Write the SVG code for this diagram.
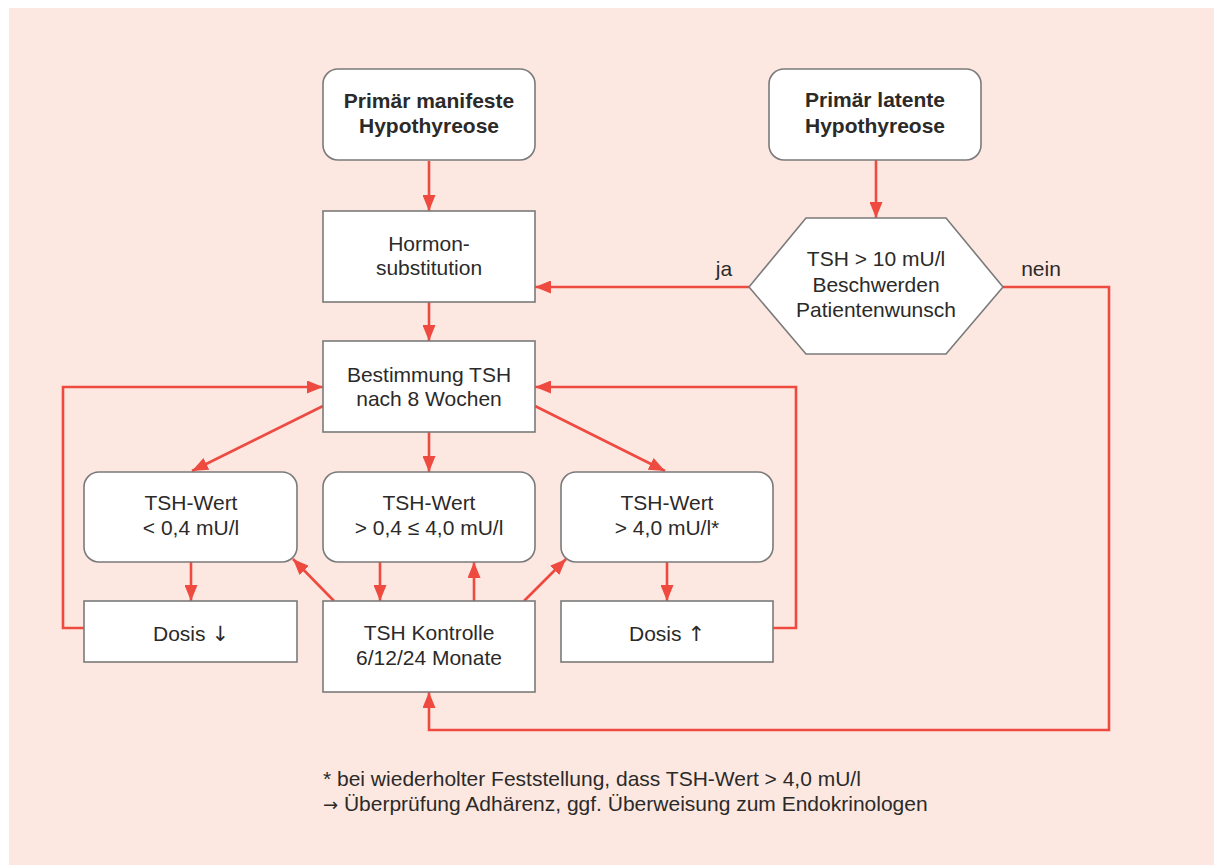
<svg xmlns="http://www.w3.org/2000/svg" width="1214" height="865" viewBox="0 0 1214 865">
<style>
.bg{fill:#fce8e1}
.box{fill:#ffffff;stroke:#7a7a7a;stroke-width:1.6}
.t{font-family:"Liberation Sans",Arial,sans-serif;font-size:21px;fill:#2b2a29;text-anchor:middle}
.b{font-weight:bold}
.l{text-anchor:start}
.ar{font-family:"DejaVu Sans",sans-serif}
.c{fill:none;stroke:#ee4a40;stroke-width:2.6}
</style>
<defs>
<marker id="ah" viewBox="0 0 16 13" refX="16" refY="6.5" markerWidth="16" markerHeight="13" markerUnits="userSpaceOnUse" orient="auto">
<path d="M0,0 L16,6.5 L0,13 z" fill="#ee4a40"/>
</marker>
</defs>
<rect class="bg" x="9" y="8" width="1205" height="857"/>

<g id="connectors">
<line class="c" x1="429" y1="161" x2="429" y2="211" marker-end="url(#ah)"/>
<line class="c" x1="876" y1="160" x2="876" y2="218" marker-end="url(#ah)"/>
<line class="c" x1="749" y1="287" x2="535" y2="287" marker-end="url(#ah)"/>
<line class="c" x1="429" y1="302" x2="429" y2="341" marker-end="url(#ah)"/>
<line class="c" x1="323" y1="406" x2="192" y2="471" marker-end="url(#ah)"/>
<line class="c" x1="429" y1="432" x2="429" y2="472" marker-end="url(#ah)"/>
<line class="c" x1="535" y1="406" x2="665" y2="471" marker-end="url(#ah)"/>
<line class="c" x1="191" y1="562" x2="191" y2="601" marker-end="url(#ah)"/>
<line class="c" x1="380" y1="562" x2="380" y2="601" marker-end="url(#ah)"/>
<line class="c" x1="474" y1="601" x2="474" y2="562" marker-end="url(#ah)"/>
<line class="c" x1="667" y1="562" x2="667" y2="601" marker-end="url(#ah)"/>
<line class="c" x1="334" y1="601" x2="293" y2="559" marker-end="url(#ah)"/>
<line class="c" x1="524" y1="601" x2="566" y2="559" marker-end="url(#ah)"/>
<polyline class="c" points="84,628 63,628 63,387 323,387" marker-end="url(#ah)"/>
<polyline class="c" points="773,628 796,628 796,387 535,387" marker-end="url(#ah)"/>
<polyline class="c" points="1003,287 1109,287 1109,730 429,730 429,692" marker-end="url(#ah)"/>
<text class="t" x="724" y="276">ja</text>
<text class="t" x="1041" y="276">nein</text>
</g>

<g id="manifest">
<rect class="box" x="323" y="69" width="212" height="91" rx="15"/>
<text class="t b" x="429" y="108">Primär manifeste</text>
<text class="t b" x="429" y="133">Hypothyreose</text>
</g>
<g id="latent">
<rect class="box" x="769" y="69" width="212" height="91" rx="15"/>
<text class="t b" x="875" y="107">Primär latente</text>
<text class="t b" x="875" y="133">Hypothyreose</text>
</g>
<g id="hormon">
<rect class="box" x="323" y="211" width="212" height="91"/>
<text class="t" x="429" y="251">Hormon-</text>
<text class="t" x="429" y="275">substitution</text>
</g>
<g id="decision">
<polygon class="box" points="749,287 806,218 946,218 1003,287 946,354 806,354"/>
<text class="t" x="876" y="266">TSH &gt; 10 mU/l</text>
<text class="t" x="876" y="292">Beschwerden</text>
<text class="t" x="876" y="317">Patientenwunsch</text>
</g>
<g id="bestimmung">
<rect class="box" x="323" y="341" width="212" height="91"/>
<text class="t" x="429" y="382">Bestimmung TSH</text>
<text class="t" x="429" y="406">nach 8 Wochen</text>
</g>
<g id="tsh-low">
<rect class="box" x="84" y="472" width="213" height="90" rx="15"/>
<text class="t" x="191" y="510">TSH-Wert</text>
<text class="t" x="191" y="535">&lt; 0,4 mU/l</text>
</g>
<g id="tsh-normal">
<rect class="box" x="323" y="472" width="212" height="90" rx="15"/>
<text class="t" x="429" y="510">TSH-Wert</text>
<text class="t" x="429" y="535">&gt; 0,4 ≤ 4,0 mU/l</text>
</g>
<g id="tsh-high">
<rect class="box" x="561" y="472" width="212" height="90" rx="15"/>
<text class="t" x="667" y="510">TSH-Wert</text>
<text class="t" x="667" y="535">&gt; 4,0 mU/l*</text>
</g>
<g id="dosis-down">
<rect class="box" x="84" y="601" width="213" height="61"/>
<text class="t" x="191" y="641">Dosis <tspan class="ar">↓</tspan></text>
</g>
<g id="kontrolle">
<rect class="box" x="323" y="601" width="212" height="91"/>
<text class="t" x="429" y="640">TSH Kontrolle</text>
<text class="t" x="429" y="665">6/12/24 Monate</text>
</g>
<g id="dosis-up">
<rect class="box" x="561" y="601" width="212" height="61"/>
<text class="t" x="667" y="641">Dosis <tspan class="ar">↑</tspan></text>
</g>

<g id="footnote">
<text class="t l" x="323" y="786">* bei wiederholter Feststellung, dass TSH-Wert &gt; 4,0 mU/l</text>
<text class="t l" x="323" y="811"><tspan class="ar" font-size="18">→</tspan> Überprüfung Adhärenz, ggf. Überweisung zum Endokrinologen</text>
</g>
</svg>
